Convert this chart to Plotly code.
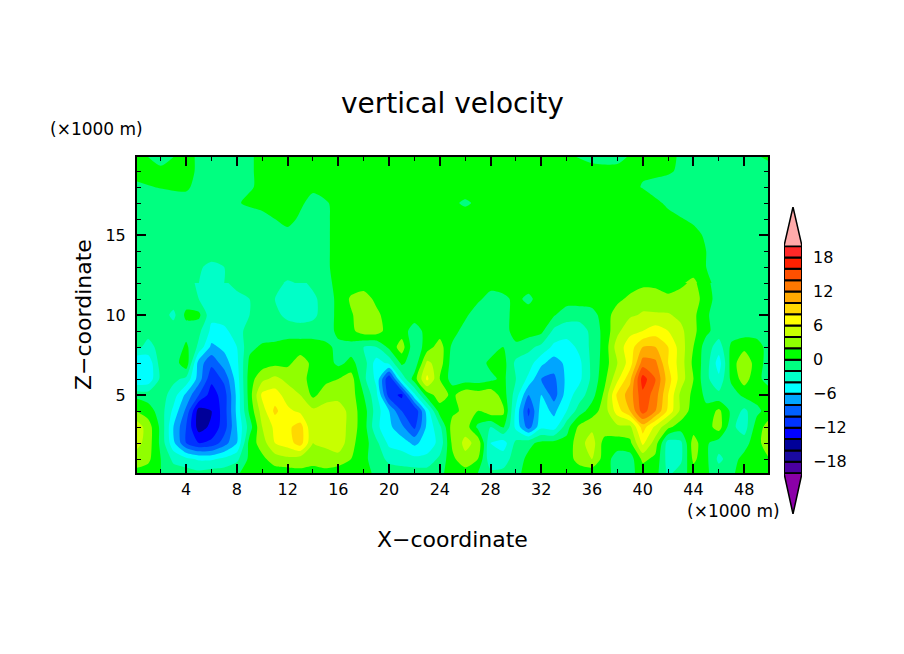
import plotly.graph_objects as go

W, H = 904, 654

# lower part of the section, 1 km columns
x_low = list(range(0, 51))
z_low = [0.125, 1, 2, 3, 4, 5, 6, 7, 8, 9, 10, 11, 12]
w_low = [
    [1.5, 1, 0, -1, -1, -1.5, -1, -1, -0.3, 1, 1, 1, 1, 1.5, 1.5, 1.5, 1, 1, 0.5, -0.3, -1, -1, -1, -1, -0.5,
     1, 1, 0, -1.5, -1.5, -0.5, 0.7, 0.7, 0.7, 0.7, 0.7, 0.7, 1, -1, -0.5, 0.8, 0.8, -2.5, -1, 1, 0.3, -1, -0.3, 0.8, 1, 1],
    [3, 2.5, 0, -2.5, -3.5, -4.3, -4.3, -3.5, -2.5, 0.5, 1.5, 3, 3.5, 3, 2.5, 3, 3, 2, 0.5, -1, -2.5, -3, -3.5, -3.5, -1.5,
     1.5, 3.5, 2, -3.5, -3, -1, 0.5, 0.8, 0.8, 0.8, 3, 4, 1, -1, -1, 2.5, 1.5, -3, -2.5, 2.5, 0.5, -2.5, -1, 0.8, 1, 2],
    [5, 3, -0.5, -5.5, -10, -12, -11.5, -9, -6, 0.8, 3, 6, 7, 9, 4, 4.5, 5.5, 2.5, 1, -1.5, -4.5, -5, -6.5, -5, -3.5,
     2.5, 4.5, 3.5, -4, -5, -1.5, -0.5, 0.5, 0.7, 0.7, 3.2, 5, 1, 1, 1.5, 6.5, 3, -3, -2.5, 3, 0.3, -1, -1.5, -1, 1.5, 3],
    [5.5, 3, -0.5, -6, -10, -15, -13.5, -11, -6, -1, 4, 6.5, 7.5, 9, 4, 5.2, 5.5, 3, 1, -3.5, -5.5, -7.5, -10.5, -5.5, -2.5,
     3, 3.2, -0.5, -2, 0.3, -4.5, -9, -4.5, -5, -0.8, 2.5, 3.5, 3.5, 3.5, 3.5, 9, 5.5, 2.5, 1, 1, 1, 3, -1.5, -3, 1, 3],
    [2, 1, -1, -4.5, -8.5, -15, -14, -11, -5.5, 0.5, 5, 8.5, 6.5, 5.5, 4.5, 5, 5.5, 3, 1, -3, -6, -10, -12, -5, 1,
     1.5, 2.5, 2, 3.3, 2.5, -4.5, -10.5, -5, -6.5, -4, -1, 1, 3, 7, 10, 15, 12, 7.5, 3.5, 1, 0.5, 2.5, -0.5, -2.5, -0.5, 1],
    [-0.5, -1, -1, -3, -6.5, -10, -13, -11, -5.5, 1, 6.5, 7, 5, 4, 1.5, 3, 3, 3, 0, -3.5, -11, -12.5, -4.5, 1, 3,
     1.5, 3.5, 3, 3.5, 1, -3, -8, -6, -9, -5, -3, -0.8, 2.5, 8.5, 11, 15.5, 13, 8, 3.5, 1.5, -0.5, -1.5, -1, 0.5, 0.8, 0.8],
    [-6, -5.5, -1.5, -1.5, -2.5, -7, -11.5, -9.5, -5, 1, 3.5, 4.5, 3.5, 3, 1, 1.5, 2, 3, -1.5, -4.5, -12, -3.5, 1, 6.5, 2,
     -1, -1, -1, -0.5, 0.5, -2, -4.5, -8, -8.5, -5.5, -4.5, -1.5, 1.5, 5.5, 9.5, 17, 14, 9, 5, 2, -1.5, -3.5, 0.5, 3, 0.5, -0.8],
    [-6, -5.5, -1, -1.2, 1.5, -7, -9.5, -7, -4.5, 0.5, 1, 1.5, 1.5, 3, 1.5, 1, -0.5, 0.5, -1, -5, -3.5, 0.5, -1.5, 4.5, 3,
     -1, -1, -1, 0.5, 0.8, -2.5, -3, -5.5, -7, -5.5, -4.5, -1.5, 1, 4, 7, 13, 12.5, 8, 5, 1.5, -1, -5, 1, 3.5, 1, -1],
    [-1.5, -2.5, -1.5, -2, 0.5, -2.5, -6.5, -5.5, -4, -0.5, 0.3, 0.5, 1, 1, 1, 0.5, -0.5, -0.8, -2, -2, 0.5, 3, -1.5, 1, 3,
     -0.5, -1.5, -1.5, -1, 0, -0.5, -1.5, -2.5, -4.5, -5, -3.5, -1.5, 0.8, 5, 7, 10, 10, 8, 5, 2, -1, -3, 0.5, 1.5, 1, -1],
    [-1, -1.5, -1, -1, -1, -1.5, -4.5, -4.5, -3, -1, -1, -1, -1, -1, -1, -1, 0.5, 1.5, 3, 3, 1, 1, -1, 0.7, 1,
     1, -1, -1.5, -0.3, -1, 1, 1, 0.5, -2.5, -3, -3, -1.5, 0.8, 3.5, 5.5, 6, 7, 6, 4.5, 2.5, 0.5, -1, -1, -1, -1, -1],
    [-1, -1, -1, -2.5, 0.5, 0.5, -3.5, -3, -3, -2, -1, -1.5, -2.5, -3, -2.5, -1, 0.5, 1.8, 3, 2.5, 1, 1, 1, 1, 1,
     1, 0.5, -1.5, -1.5, -0.5, 0.5, 1, 1, 0.2, -1.2, -1.2, -0.8, 1, 3, 3.7, 4.2, 4.2, 4.2, 3.5, 2.5, 0.3, -1, -1, -1, -1, -1],
    [-1, -1, -1, -1, -1, -2, -3, -3, -3, -2, -1.5, -2, -3, -3, -2.5, -1, 0.5, 2.3, 3, 1.5, 1, 1, 1, 1, 1,
     1, 1, 0.5, -1, -0.5, 0.5, -0.5, 1, 1, 1, 1, 1, 1, 1.5, 2.5, 3.3, 3, 2.5, 3, 3, 1, -1, -1, -1, -1, -1],
    [-1, -1, -1, -1, -1, -2.5, -3, -2.5, -1, -1, -1, -1.5, -2.2, -2.5, -1.5, -0.5, 0.5, 1, 1, 1, 1, 1, 1, 1, 1,
     1, 1, 1, 1, 1, 1, 1, 1, 1, 1, 1, 1, 1, 1, 1, 1.5, 1.5, 1, 1.5, 2.5, 0.5, -1, -1, -1, -1, -1],
]

# upper part is mostly flat, 2 km columns are enough
x_up = [0, 2, 4, 6, 8, 10, 12, 14, 16, 18, 20, 22, 24, 26, 28, 30, 32, 34, 36, 38, 40, 42, 44, 46, 48, 50]
z_up = [12, 13, 14, 15, 16, 17, 18, 19, 19.875]
w_up = [
    [-1, -1, -1, -3, -1, -1, -2.2, -1.5, 0.5, 1, 1, 1, 1, 1, 1, 1, 1, 1, 1, 1, 1.5, 1, 2.5, -1, -1, -1],
    [-1, -1, -1, -2.5, -1.5, -1, -1, -1, 0.5, 1, 1, 1, 1, 1, 1, 1, 1, 1, 1, 1, 1, 1, 1, -1, -1, -1],
    [-1, -1, -1, -1, -1, -1, -1, -1, 0.5, 1, 1, 1, 1, 1, 1, 1, 1, 1, 1, 1, 1, 1, 1, -1, -1, -1],
    [-1, -1, -1, -1, -1, -1, -0.5, -1, 0.5, 1, 1, 1, 1, 1, 1, 1, 1, 1, 1, 1, 1, 1, 0.5, -1, -1, -1],
    [-1, -1, -1, -1, -1, -0.5, 0.5, -1, 0.5, 1, 1, 1, 1, 1, 1, 1, 1, 1, 1, 1, 1, 0.5, -0.3, -1, -1, -1],
    [-1, -1, -0.5, -1, -0.1, 0.5, 1, -0.5, 0.3, 1, 1, 1, 1, -0.3, 1, 1, 1, 1, 1, 1, 1, -0.3, -1, -1, -1, -1],
    [-0.3, 0.1, 0.2, -1, -1, 0.5, 1, 0.3, 1, 1, 1, 1, 1, 1, 1, 1, 1, 1, 1, 1, -0.1, -1, -1, -1, -1, -1],
    [0.5, 0.3, 0.5, -1, -1, 0.5, 1, 0.5, 1, 1, 1, 1, 1, 1, 1, 1, 1, 1, 1, 0.3, 0.2, 0.3, -1, -1, -1, -1],
    [0.5, -0.5, 0.5, -1, -1, 0.5, 0.5, 1, 1, 1, 1, 1, 0.5, 1, 1, 1, 1, 0.5, -0.8, -0.3, 0.5, 0.5, -1, -1, -1, 0.5],
]

levels = list(range(-20, 22, 2))
band_colors = [
    "#4b00a0", "#1a0aa0", "#000099", "#0000ff", "#0033ff", "#0060ff", "#00a5ff", "#00ffff",
    "#00ffc8", "#00ff80", "#00ff00", "#90ff00", "#c8ff00", "#ffff00", "#ffd800", "#ffa800",
    "#ff7800", "#ff5000", "#ff2000", "#ff2828",
]
under_color = "#8b00a8"
over_color = "#ffaaaa"
cbar_ticks = [-18, -12, -6, 0, 6, 12, 18]
x_ticks = [4, 8, 12, 16, 20, 24, 28, 32, 36, 40, 44, 48]
z_ticks = [5, 10, 15]

FONT = "DejaVu Sans"


def px_x(a, b):
    return [a / W, b / W]


def px_y(top, bottom):
    return [1 - bottom / H, 1 - top / H]


def label(text, x, y, size, **kw):
    return dict(text=text, x=x / W, y=1 - y / H, xref="paper", yref="paper", xanchor="center",
                yanchor="middle", showarrow=False, font=dict(size=size), **kw)


# plotly spreads the colorscale over levels[0]-1 .. levels[-1]+1, so band edges sit on the levels
span = levels[-1] - levels[0] + 2
colorscale = [[0, under_color], [1 / span, under_color]]
for i, c in enumerate(band_colors):
    colorscale.append([(levels[i] - levels[0] + 1) / span, c])
    colorscale.append([(levels[i + 1] - levels[0] + 1) / span, c])
colorscale += [[(span - 1) / span, over_color], [1, over_color]]

fig = go.Figure()
for xs, zs, rows in [(x_low, z_low, w_low), (x_up, z_up, w_up)]:
    fig.add_trace(go.Contour(
        x=xs, y=zs, z=rows,
        colorscale=colorscale,
        showscale=False,
        autocontour=False,
        contours=dict(start=-20, end=20, size=2, coloring="fill", showlines=False),
        line=dict(width=0, smoothing=0.7),
        hoverinfo="skip",
    ))

# colour bar: one box per band plus the two end triangles
fig.add_trace(go.Bar(
    x=[0.5] * len(band_colors),
    y=[levels[i + 1] - levels[i] for i in range(len(band_colors))],
    base=levels[:-1],
    width=1,
    marker=dict(color=band_colors, line=dict(color="black", width=2)),
    xaxis="x2", yaxis="y2", hoverinfo="skip",
))
fig.add_trace(go.Scatter(
    x=[0, 1, 0.5, 0], y=[20, 20, 26.9, 20], fill="toself", fillcolor=over_color, mode="lines",
    line=dict(color="black", width=1.5), xaxis="x2", yaxis="y2", hoverinfo="skip",
))
fig.add_trace(go.Scatter(
    x=[0, 1, 0.5, 0], y=[-20, -20, -27.2, -20], fill="toself", fillcolor=under_color, mode="lines",
    line=dict(color="black", width=1.5), xaxis="x2", yaxis="y2", hoverinfo="skip",
))

fig.update_layout(
    width=W, height=H,
    margin=dict(l=0, r=0, t=0, b=0),
    paper_bgcolor="white", plot_bgcolor="white",
    showlegend=False,
    font=dict(family=FONT, color="black", size=16),
    xaxis=dict(
        domain=px_x(137, 768), range=[0.125, 49.875], tickvals=x_ticks,
        ticks="inside", ticklen=9, tickwidth=2, tickcolor="black",
        minor=dict(dtick=2, ticks="inside", ticklen=4, tickwidth=1, tickcolor="black"),
        showline=True, linecolor="black", linewidth=2, mirror="ticks",
        showgrid=False, zeroline=False, tickfont=dict(size=16),
        ticklabelstandoff=1,
    ),
    yaxis=dict(
        domain=px_y(157, 473), range=[0.125, 19.875], tickvals=z_ticks,
        ticks="inside", ticklen=9, tickwidth=2, tickcolor="black",
        minor=dict(dtick=1, ticks="inside", ticklen=4, tickwidth=1, tickcolor="black"),
        showline=True, linecolor="black", linewidth=2, mirror="ticks",
        showgrid=False, zeroline=False, tickfont=dict(size=16),
        ticklabelstandoff=6,
    ),
    xaxis2=dict(domain=px_x(784, 802), range=[0, 1], visible=False, anchor="y2"),
    yaxis2=dict(
        domain=px_y(207, 514), range=[-27.2, 26.9], anchor="x2", side="right",
        tickvals=cbar_ticks, ticks="", showgrid=False, zeroline=False, showline=False,
        tickfont=dict(size=16), ticklabelstandoff=10,
    ),
    annotations=[
        label("vertical velocity", 452, 104, 28),
        label("X\u2212coordinate", 452, 539, 22),
        label("Z\u2212coordinate", 83, 315, 22, textangle=-90),
        label("(\u00d71000 m)", 96, 129, 17),
        label("(\u00d71000 m)", 733, 511, 17),
    ],
)

# the page's default body margin would push the figure 8px off
fig.write_html("out.html", config={"displayModeBar": False},
               post_script="document.body.style.margin = '0';")
